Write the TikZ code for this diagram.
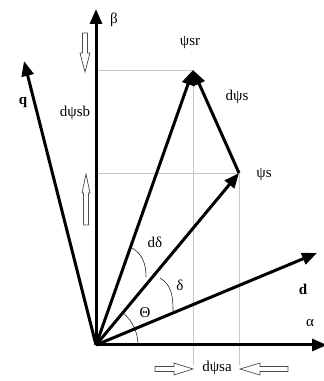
\documentclass[tikz,border=0pt]{standalone}
\usepackage{fontspec}
\setmainfont{Liberation Serif}
\usetikzlibrary{arrows.meta}
\tikzset{
  vec/.style={line width=3pt, -{Triangle[length=15pt,width=12pt]}},
  guide/.style={draw=black!22, line width=0.9pt},
  hollowstyle/.style={draw=black!70, fill=white, line width=0.7pt, line join=miter},
  angarc/.style={draw=black!85, line width=0.6pt},
  lbl/.style={font=\fontsize{15}{17}\selectfont, inner sep=1pt},
  blbl/.style={font=\fontsize{15}{17}\selectfont\bfseries, inner sep=1pt}
}
\newcommand\hollowarrow[6]{% x y angle length headlength headhalfwidth
  \draw[hollowstyle, shift={(#1,#2)}, rotate=#3]
    (0,-2.5) -- ({#4-#5},-2.5) -- ({#4-#5},-#6) -- (#4,0) -- ({#4-#5},#6)
    -- ({#4-#5},2.5) -- (0,2.5) -- cycle;}
\begin{document}
\begin{tikzpicture}[x=1pt,y=1pt]
\useasboundingbox (0,0) rectangle (324,381);
% coordinates
\coordinate (O) at (96,36);
\coordinate (A) at (327,36);
\coordinate (B) at (96,372);
\coordinate (Q) at (24,320);
\coordinate (D) at (317,128);
\coordinate (SR) at (193,311);
\coordinate (S) at (239,208);
\coordinate (SRb) at (96,311);
\coordinate (Sb) at (96,208);
\coordinate (SRd) at (193,16);
\coordinate (Sd) at (239,16);
% guide lines
\draw[guide] (SRb) -- (SR) -- (SRd);
\draw[guide] (Sb) -- (S) -- (Sd);
% angle arcs
\draw[angarc] (138,36) arc[start angle=0, end angle=50, radius=42];
\draw[angarc] (173,70) to[out=90,in=-30] (160,103);
\draw[angarc] (146,104) to[out=90,in=-30] (132,133);
% vectors
\draw[vec] (O) -- (A);
\draw[vec] (O) -- (B);
\draw[vec] (O) -- (Q);
\draw[vec] (O) -- (D);
\draw[vec] (O) -- (S);
\draw[vec] (O) -- (SR);
\draw[vec] (S) -- (SR);
% hollow arrows
\hollowarrow{85}{348}{-90}{39}{19}{5}
\hollowarrow{86}{156}{90}{51}{19}{4}
\hollowarrow{155}{12}{0}{38}{19}{6}
\hollowarrow{288}{12}{180}{48}{20}{6}
% labels
\node[lbl] (lb) at (114,361) {β};
\node[lbl] (lal) at (310,58) {α};
\node[blbl] (lq) at (23,279) {q};
\node[blbl] (ld) at (303,92) {d};
\node[lbl] (lsr) at (190,338) {ψsr};
\node[lbl] (lds) at (237,284) {dψs};
\node[lbl] (ls) at (264,206) {ψs};
\node[lbl] (ldsb) at (75,268) {dψsb};
\node[lbl] (ldsa) at (217,13) {dψsa};
\node[lbl] (ldd) at (155,139) {dδ};
\node[lbl] (ldel) at (180,96) {δ};
\node[lbl] (lth) at (145,68) {Θ};
\end{tikzpicture}
\end{document}
